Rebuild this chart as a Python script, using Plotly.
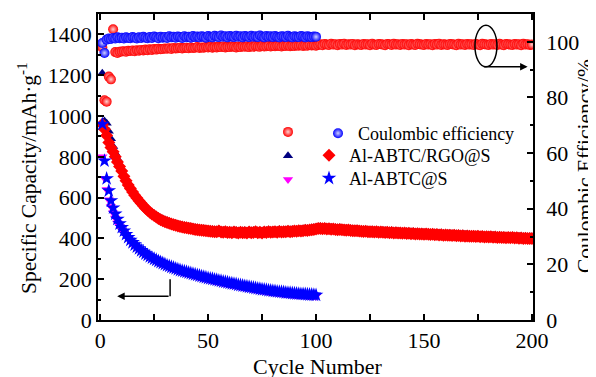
import plotly.graph_objects as go

# ---------------- data ----------------
cycles_200 = list(range(1, 201))
cycles_100 = list(range(1, 101))

# Al-ABTC/RGO@S specific capacity (navy triangles)
rgo_tri = [
    1210, 975, 965, 925, 888, 850, 818, 790, 764, 740,
    713, 690, 670, 652, 636, 620, 606, 592, 580, 568,
    556, 546, 536, 528, 520, 513, 506, 500, 495, 490,
    486, 482, 478, 475, 472, 469, 466, 464, 462, 460,
    458, 456, 454, 452, 451, 449, 448, 447, 445, 444,
    443, 442, 441, 440, 444, 439, 438, 440, 437, 438,
    436, 439, 437, 435, 438, 436, 437, 434, 439, 436,
    437, 440, 436, 438, 435, 439, 437, 441, 438, 439,
    440, 438, 442, 439, 441, 440, 443, 441, 442, 444,
    443, 445, 444, 446, 448, 447, 449, 451, 452, 454,
    456, 457, 455, 456, 454, 455, 453, 454, 452, 451,
    452, 450, 449, 448, 449, 447, 446, 445, 446, 444,
    443, 442, 443, 441, 440, 441, 439, 440, 438, 439,
    438, 437, 438, 436, 437, 435, 436, 434, 435, 433,
    434, 432, 433, 431, 432, 430, 431, 429, 430, 428,
    429, 428, 427, 428, 426, 427, 425, 426, 424, 425,
    423, 424, 422, 423, 421, 422, 420, 421, 419, 420,
    419, 418, 419, 417, 418, 416, 417, 415, 416, 415,
    416, 414, 415, 413, 414, 412, 413, 411, 412, 411,
    412, 410, 411, 409, 410, 408, 409, 407, 408, 407,
]
# Al-ABTC/RGO@S specific capacity (red diamonds)
rgo_dia = [
    960, 935, 905, 870, 845, 825, 800, 775, 752, 730,
    705, 682, 662, 645, 628, 612, 598, 585, 572, 560,
    548, 538, 528, 520, 512, 505, 498, 492, 487, 482,
    478, 474, 470, 467, 464, 461, 458, 456, 454, 452,
    450, 448, 446, 444, 443, 441, 440, 439, 437, 436,
    435, 434, 433, 432, 436, 431, 430, 432, 429, 430,
    428, 431, 429, 427, 430, 428, 429, 426, 431, 428,
    429, 432, 428, 430, 427, 431, 429, 433, 430, 431,
    432, 430, 434, 431, 433, 432, 435, 433, 434, 436,
    435, 437, 436, 438, 440, 439, 441, 443, 444, 446,
    448, 449, 447, 448, 446, 447, 445, 446, 444, 443,
    444, 442, 441, 440, 441, 439, 438, 437, 438, 436,
    435, 434, 435, 433, 432, 433, 431, 432, 430, 431,
    430, 429, 430, 428, 429, 427, 428, 426, 427, 425,
    426, 424, 425, 423, 424, 422, 423, 421, 422, 420,
    421, 420, 419, 420, 418, 419, 417, 418, 416, 417,
    415, 416, 414, 415, 413, 414, 412, 413, 411, 412,
    411, 410, 411, 409, 410, 408, 409, 407, 408, 407,
    408, 406, 407, 405, 406, 404, 405, 403, 404, 403,
    404, 402, 403, 401, 402, 400, 401, 399, 400, 399,
]
# Al-ABTC@S specific capacity (magenta down-triangles)
abtc_tri = [
    800, 695, 640, 590, 556, 526, 500, 476, 458, 442,
    428, 413, 399, 386, 375, 364, 354, 345, 336, 328,
    320, 313, 306, 300, 294, 289, 283, 278, 273, 268,
    263, 259, 255, 251, 247, 243, 239, 236, 233, 230,
    227, 224, 221, 218, 215, 212, 209, 206, 203, 200,
    198, 196, 193, 191, 188, 186, 183, 181, 179, 176,
    174, 172, 170, 167, 165, 163, 161, 159, 157, 155,
    153, 151, 149, 147, 145, 144, 142, 140, 139, 137,
    136, 134, 133, 132, 131, 129, 128, 127, 126, 125,
    124, 123, 122, 122, 121, 120, 119, 119, 118, 117,
]
# Al-ABTC@S specific capacity (blue stars)
abtc_star = [
    960, 780, 693, 634, 585, 550, 520, 495, 472, 454,
    437, 420, 405, 392, 380, 369, 359, 350, 341, 333,
    325, 318, 311, 305, 299, 294, 288, 283, 278, 273,
    268, 264, 260, 256, 252, 248, 244, 241, 238, 235,
    232, 229, 226, 223, 220, 217, 214, 211, 208, 205,
    203, 201, 198, 196, 193, 191, 188, 186, 184, 181,
    179, 177, 175, 172, 170, 168, 166, 164, 162, 160,
    158, 156, 154, 152, 150, 149, 147, 145, 144, 142,
    141, 139, 138, 137, 136, 134, 133, 132, 131, 130,
    129, 128, 127, 127, 126, 125, 124, 124, 123, 122,
]
# Coulombic efficiency (%), Al-ABTC/RGO@S (red spheres)
ce_rgo = [
    98.0, 79.0, 78.5, 87.5, 86.5, 104.5, 96.3, 96.0, 96.4, 96.5,
    96.6, 96.4, 96.8, 96.7, 96.9, 96.6, 97.0, 96.8, 97.1, 96.9,
    97.2, 97.0, 97.3, 97.1, 97.4, 97.2, 97.5, 97.3, 97.4, 97.6,
    97.5, 97.7, 97.4, 97.8, 97.6, 97.7, 97.9, 97.6, 97.8, 97.9,
    97.7, 98.0, 97.8, 97.9, 98.1, 97.8, 98.0, 97.9, 98.1, 98.0,
    98.2, 97.9, 98.1, 98.0, 98.2, 98.1, 98.3, 98.0, 98.2, 98.1,
    98.3, 98.2, 98.0, 98.3, 98.1, 98.4, 98.2, 98.3, 98.1, 98.4,
    98.2, 98.5, 98.3, 98.2, 98.5, 98.3, 98.4, 98.6, 98.3, 98.5,
    98.4, 98.6, 98.5, 98.3, 98.6, 98.5, 98.7, 98.4, 98.6, 98.5,
    98.7, 98.6, 98.8, 98.5, 98.7, 98.6, 98.9, 98.7, 98.8, 98.6,
    98.9, 99.1, 98.8, 99.2, 99.0, 98.9, 99.3, 99.0, 99.1, 98.8,
    99.2, 99.0, 99.3, 98.9, 99.1, 99.0, 99.2, 98.8, 99.1, 99.0,
    98.9, 99.2, 99.0, 99.1, 98.8, 99.3, 99.0, 98.9, 99.2, 99.1,
    99.0, 98.8, 99.2, 99.1, 98.9, 99.3, 99.0, 99.1, 98.9, 99.2,
    99.0, 99.1, 98.8, 99.2, 99.0, 98.9, 99.3, 99.1, 99.0, 98.9,
    99.2, 99.0, 99.1, 98.8, 99.2, 99.0, 99.3, 98.9, 99.1, 99.0,
    98.9, 99.2, 99.1, 99.0, 98.8, 99.3, 99.0, 99.1, 98.9, 99.2,
    99.0, 99.1, 98.9, 99.2, 99.0, 98.8, 99.3, 99.1, 99.0, 98.9,
    99.2, 99.0, 99.1, 98.9, 99.3, 99.0, 98.8, 99.2, 99.1, 99.0,
    98.9, 99.2, 99.0, 99.1, 98.8, 99.3, 99.0, 99.1, 98.9, 99.0,
]
# Coulombic efficiency (%), Al-ABTC@S (blue spheres)
ce_abtc = [
    99.6, 96.0, 100.8, 101.2, 101.0, 101.4, 101.2, 101.6, 101.3, 101.5,
    101.2, 101.6, 101.4, 101.3, 101.7, 101.5, 101.2, 101.6, 101.4, 101.8,
    101.5, 101.3, 101.7, 101.4, 101.9, 101.6, 101.3, 101.8, 101.5, 101.7,
    101.4, 102.0, 101.6, 101.8, 101.5, 101.9, 101.7, 101.4, 102.0, 101.6,
    101.8, 101.5, 102.1, 101.7, 101.9, 101.6, 102.0, 101.8, 101.5, 102.1,
    101.8, 101.6, 102.2, 101.9, 101.7, 102.3, 101.8, 102.0, 101.6, 102.1,
    101.9, 101.7, 102.2, 101.8, 102.0, 101.6, 102.1, 101.9, 101.7, 102.2,
    101.8, 102.0, 101.7, 102.3, 101.9, 101.6, 102.1, 101.8, 102.0, 101.7,
    102.1, 101.8, 101.6, 102.0, 101.9, 101.7, 102.2, 101.8, 101.6, 102.0,
    101.8, 101.7, 102.1, 101.9, 101.6, 102.0, 101.8, 101.7, 101.9, 101.8,
]

x_ticks = [0, 50, 100, 150, 200]
y_ticks = [0, 200, 400, 600, 800, 1000, 1200, 1400]
y2_ticks = [0, 20, 40, 60, 80, 100]

FONT = "Liberation Serif"

fig = go.Figure()

# capacity traces (left axis)
fig.add_trace(go.Scatter(x=cycles_200, y=rgo_tri, mode="markers", name=" ",
                         marker=dict(symbol="triangle-up", size=9, color="#000080"),
                         legend="legend", legendrank=2))
fig.add_trace(go.Scatter(x=cycles_200, y=rgo_dia, mode="markers", name="Al-ABTC/RGO@S",
                         marker=dict(symbol="diamond", size=10, color="#ff0000"),
                         legend="legend3"))
fig.add_trace(go.Scatter(x=cycles_100, y=abtc_tri, mode="markers", name=" ",
                         marker=dict(symbol="triangle-down", size=9, color="#ff00ff"),
                         legend="legend", legendrank=3))
fig.add_trace(go.Scatter(x=cycles_100, y=abtc_star, mode="markers", name="Al-ABTC@S",
                         marker=dict(symbol="star", size=11, color="#0000ff"),
                         legend="legend4"))
# coulombic efficiency (right axis)
fig.add_trace(go.Scatter(x=cycles_200, y=ce_rgo, mode="markers", name=" ", yaxis="y2",
                         marker=dict(symbol="circle", size=10, color="#ff0000",
                                     gradient=dict(type="radial", color="#ffd0d0")),
                         legend="legend", legendrank=1))
fig.add_trace(go.Scatter(x=cycles_100, y=ce_abtc, mode="markers", name="Coulombic efficiency",
                         yaxis="y2",
                         marker=dict(symbol="circle", size=10, color="#0000ff",
                                     gradient=dict(type="radial", color="#d0d0ff")),
                         legend="legend2"))

axis_common = dict(showline=True, linecolor="black", linewidth=1.5, ticks="inside",
                   tickcolor="black", tickwidth=1.5, showgrid=False, zeroline=False,
                   automargin=False,
                   tickfont=dict(family=FONT, size=22, color="black"))

# the page body adds an 8 px margin, so the figure is sized/margined to compensate
fig.update_layout(
    width=588, height=369,
    margin=dict(l=90, r=63, t=6, b=57, autoexpand=False),
    paper_bgcolor="white", plot_bgcolor="white",
    font=dict(family=FONT, color="black"),
    xaxis=dict(range=[-1, 200.5], tickvals=x_ticks, ticklen=6, mirror="allticks",
               minor=dict(dtick=25, tick0=0, ticklen=3, ticks="inside", tickcolor="black", tickwidth=1.5),
               **axis_common),
    yaxis=dict(range=[0, 1500], tickvals=y_ticks, ticklen=6,
               minor=dict(dtick=100, tick0=0, ticklen=3, ticks="inside", tickcolor="black", tickwidth=1.5),
               **axis_common),
    yaxis2=dict(range=[0, 110], tickvals=y2_ticks, ticklen=6, overlaying="y", side="right",
                ticklabelstandoff=7,
                minor=dict(dtick=10, tick0=0, ticklen=3, ticks="inside", tickcolor="black", tickwidth=1.5),
                **axis_common),
    legend=dict(x=(268 - 98) / 435, y=0.670, xanchor="left", yanchor="top",
                bgcolor="rgba(0,0,0,0)", font=dict(family=FONT, size=16)),
    legend2=dict(x=(318 - 98) / 435, y=0.670, xanchor="left", yanchor="top",
                 bgcolor="rgba(0,0,0,0)", font=dict(family=FONT, size=18)),
    legend3=dict(x=(309 - 98) / 435, y=0.598, xanchor="left", yanchor="top",
                 bgcolor="rgba(0,0,0,0)", font=dict(family=FONT, size=18)),
    legend4=dict(x=(309 - 98) / 435, y=0.523, xanchor="left", yanchor="top",
                 bgcolor="rgba(0,0,0,0)", font=dict(family=FONT, size=18)),
)

# axis titles
fig.add_annotation(text="Cycle Number", xref="paper", yref="paper",
                   x=(317.5 - 98) / 435, y=(320 - 366) / 306, xanchor="center", yanchor="middle",
                   showarrow=False, font=dict(family=FONT, size=22, color="black"))
fig.add_annotation(text="Specific Capacity/mAh·g<sup>-1</sup>", xref="paper", yref="paper",
                   x=(27 - 98) / 435, y=(320 - 178) / 306, xanchor="center", yanchor="middle",
                   textangle=-90, showarrow=False, font=dict(family=FONT, size=21.5, color="black"))
fig.add_annotation(text="Coulombic Efficiency/%", xref="paper", yref="paper",
                   x=(585 - 98) / 435, y=(320 - 166) / 306, xanchor="center", yanchor="middle",
                   textangle=-90, showarrow=False, font=dict(family=FONT, size=21.5, color="black"))

# arrows and ellipse
fig.add_shape(type="line", xref="x", yref="y", x0=32.4, y0=200, x1=32.4, y1=117,
              line=dict(color="black", width=1.5))
fig.add_annotation(x=7.9, y=117, ax=32.4, ay=117, xref="x", yref="y", axref="x", ayref="y",
                   showarrow=True, arrowhead=2, arrowsize=1, arrowwidth=1.5, arrowcolor="black", text="")
fig.add_shape(type="circle", xref="x", yref="y2", x0=173.6, x1=183.8, y0=91, y1=106,
              line=dict(color="black", width=1.5))
fig.add_annotation(x=198, y=91, ax=177, ay=91, xref="x", yref="y2", axref="x", ayref="y2",
                   showarrow=True, arrowhead=2, arrowsize=1, arrowwidth=1.5, arrowcolor="black", text="")

fig.write_html("out.html")
